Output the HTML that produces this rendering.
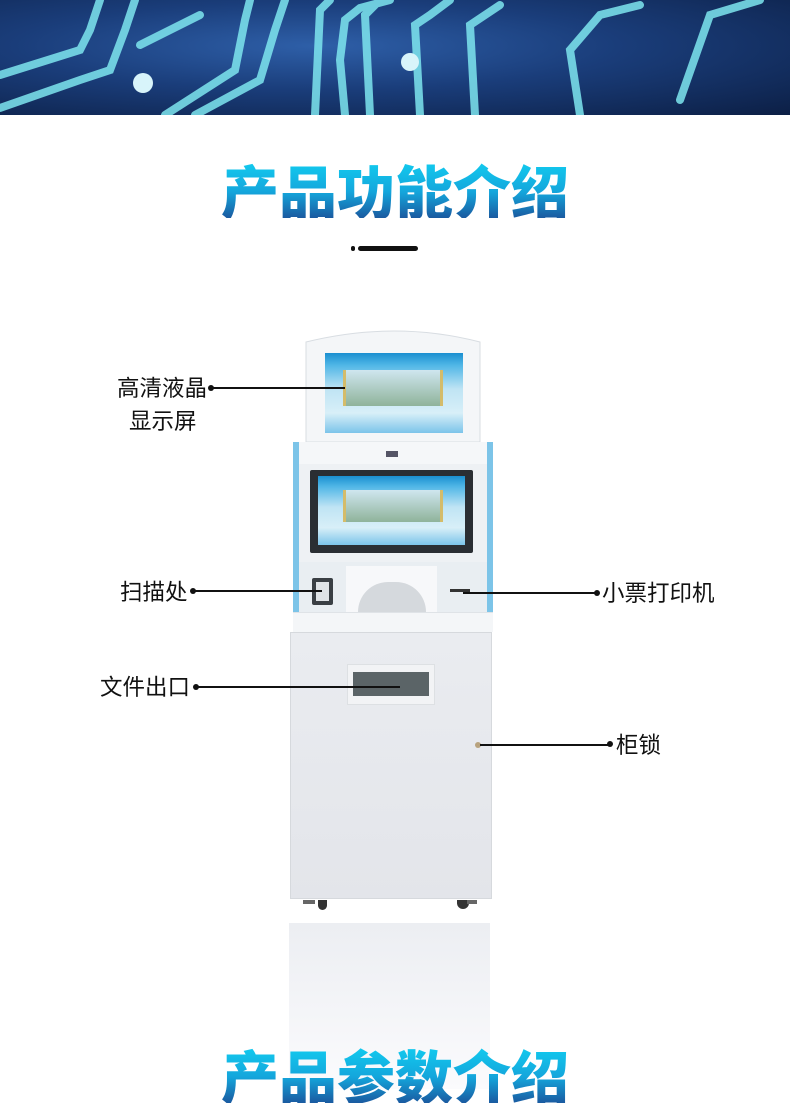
<!DOCTYPE html>
<html><head><meta charset="utf-8"><style>
*{margin:0;padding:0;box-sizing:border-box}
body{width:790px;height:1089px;overflow:hidden;background:#fff;position:relative;font-family:"Liberation Sans","Noto Sans CJK SC",sans-serif}
.abs{position:absolute}
.title{position:absolute;left:0;width:790px;text-align:center;font-size:58px;font-weight:900;letter-spacing:0px;line-height:1;
background:linear-gradient(to bottom,#12cdf0 0%,#14a6dc 55%,#1a5aa0 100%);-webkit-background-clip:text;background-clip:text;color:transparent;font-family:"Noto Sans CJK SC",sans-serif}
.lbl{position:absolute;font-size:22.5px;color:#111;line-height:1;font-family:"Noto Sans CJK SC",sans-serif}
.ln{position:absolute;height:1.5px;background:#111}
.dot{position:absolute;width:6px;height:6px;border-radius:50%;background:#111}
.scr{position:absolute;background:linear-gradient(to bottom,#1a8fd0 0%,#4fb6e6 15%,#bfe4f4 45%,#d8eff8 75%,#7cc4ea 100%)}
</style></head><body>
<div class="abs" style="left:0;top:0;width:790px;height:115px;background:radial-gradient(ellipse at 40% 40%,#2e5fa8 0%,#1a3d7a 45%,#0c1f45 100%);overflow:hidden">
<svg width="790" height="115" style="position:absolute;left:0;top:0">
<g fill="none" stroke="#7ee6ef" stroke-width="8" stroke-linecap="round" opacity="0.85">
<path d="M0 75 L80 50 L90 30 L100 0"/>
<path d="M0 108 L80 80 L110 70 L125 30 L135 0"/>
<path d="M165 115 L235 70 L245 20 L250 0"/>
<path d="M195 115 L260 80 L275 30 L285 0"/>
<path d="M315 115 L320 10 L330 0"/>
<path d="M345 115 L340 60 L345 20 L360 8 L390 0"/>
<path d="M370 115 L365 15 L375 5"/>
<path d="M420 115 L415 25 L430 15 L450 0"/>
<path d="M475 115 L470 25 L500 5"/>
<path d="M580 115 L570 50 L600 15 L640 5"/>
<path d="M680 100 L710 15 L760 0"/>
<path d="M140 45 L200 15"/>
</g>
<circle cx="143" cy="83" r="10" fill="#d8f4fa"/>
<circle cx="410" cy="62" r="9" fill="#d8f4fa"/>
</svg></div>
<div class="title" style="top:160px">产品功能介绍</div>
<div class="abs" style="left:351px;top:246px;width:4px;height:5px;border-radius:2px;background:#111"></div>
<div class="abs" style="left:358px;top:246px;width:60px;height:5px;border-radius:3px;background:#111"></div>

<svg class="abs" style="left:300px;top:320px" width="190" height="125">
<path d="M6 22 Q95 0 180 22 L180 122 L6 122 Z" fill="#f4f6f8" stroke="#d8dde2"/>
</svg>
<div class="scr" style="left:325px;top:353px;width:138px;height:80px"></div>
<div class="abs" style="left:343px;top:370px;width:100px;height:36px;background:linear-gradient(#cfe6ef,#8fb39a);border-left:3px solid #d4bc6a;border-right:3px solid #d4bc6a"></div>
<div class="abs" style="left:293px;top:442px;width:200px;height:190px;background:#eef1f4;border-left:6px solid #7cc4e8;border-right:6px solid #7cc4e8"></div>
<div class="abs" style="left:299px;top:442px;width:188px;height:22px;background:#f5f7f9"></div>
<div class="abs" style="left:386px;top:451px;width:12px;height:6px;background:#556"></div>
<div class="abs" style="left:310px;top:470px;width:163px;height:83px;background:#2a2e33;border-radius:2px"></div>
<div class="scr" style="left:318px;top:476px;width:147px;height:69px"></div>
<div class="abs" style="left:343px;top:490px;width:100px;height:32px;background:linear-gradient(#cfe6ef,#8fb39a);border-left:3px solid #d4bc6a;border-right:3px solid #d4bc6a"></div>
<div class="abs" style="left:299px;top:562px;width:188px;height:52px;background:#e9eef2"></div>
<div class="abs" style="left:312px;top:578px;width:21px;height:27px;background:#3a3f44;border-radius:2px"></div>
<div class="abs" style="left:316px;top:582px;width:13px;height:19px;background:#dfe3e6"></div>
<div class="abs" style="left:346px;top:566px;width:91px;height:46px;background:#f7f8fa"></div>
<div class="abs" style="left:358px;top:582px;width:68px;height:30px;background:#d5d9dd;border-radius:34px 34px 0 0"></div>
<div class="abs" style="left:450px;top:589px;width:20px;height:3px;background:#333"></div>
<div class="abs" style="left:293px;top:612px;width:200px;height:20px;background:#f4f6f8;border-top:1px solid #dfe3e7"></div>
<div class="abs" style="left:290px;top:632px;width:202px;height:267px;background:linear-gradient(#eaecf0,#e3e5ea);border:1px solid #d6d9dd"></div>
<div class="abs" style="left:347px;top:664px;width:88px;height:41px;background:#f2f3f5;border:1px solid #dde0e3"></div>
<div class="abs" style="left:353px;top:672px;width:76px;height:24px;background:#5b6467"></div>
<div class="abs" style="left:475px;top:742px;width:6px;height:6px;border-radius:50%;background:#b8a27e"></div>
<div class="abs" style="left:318px;top:900px;width:9px;height:10px;border-radius:0 0 5px 5px;background:#333"></div>
<div class="abs" style="left:457px;top:900px;width:12px;height:9px;border-radius:0 0 6px 6px;background:#333"></div>
<div class="abs" style="left:303px;top:900px;width:12px;height:4px;background:#666"></div>
<div class="abs" style="left:467px;top:900px;width:10px;height:4px;background:#666"></div>
<div class="abs" style="left:289px;top:923px;width:201px;height:166px;background:linear-gradient(#eceef2,#fbfbfd)"></div>

<div class="lbl" style="left:117px;top:376px">高清液晶</div>
<div class="lbl" style="left:129px;top:409px">显示屏</div>
<div class="dot" style="left:208px;top:385px"></div><div class="ln" style="left:211px;top:387px;width:134px"></div>
<div class="lbl" style="left:120px;top:580px">扫描处</div>
<div class="dot" style="left:190px;top:588px"></div><div class="ln" style="left:193px;top:590px;width:129px"></div>
<div class="lbl" style="left:602px;top:581px">小票打印机</div>
<div class="dot" style="left:594px;top:590px"></div><div class="ln" style="left:463px;top:592px;width:134px"></div>
<div class="lbl" style="left:100px;top:675px">文件出口</div>
<div class="dot" style="left:193px;top:684px"></div><div class="ln" style="left:196px;top:686px;width:204px"></div>
<div class="lbl" style="left:616px;top:733px">柜锁</div>
<div class="dot" style="left:607px;top:741px"></div><div class="ln" style="left:480px;top:744px;width:130px"></div>

<div class="title" style="top:1045px">产品参数介绍</div>
</body></html>
